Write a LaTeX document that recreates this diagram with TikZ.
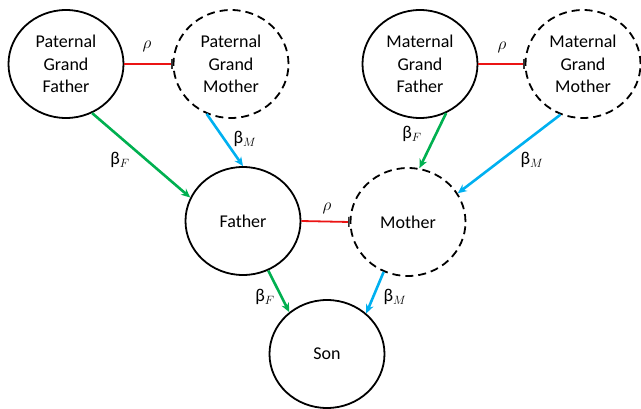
\documentclass[tikz,border=0pt]{standalone}
\usepackage{fontspec}
\setmainfont{Carlito}
\usetikzlibrary{arrows.meta,shapes.geometric}
\definecolor{cgreen}{RGB}{0,176,80}
\definecolor{cblue}{RGB}{0,176,240}
\definecolor{cred}{RGB}{235,20,20}
\begin{document}
\begin{tikzpicture}[x=1pt,y=-1pt,
  person/.style={ellipse,draw=black,line width=1.8pt,minimum width=115pt,minimum height=108pt,inner sep=0pt,align=center,font=\fontsize{18}{22.5}\selectfont},
  latent/.style={person,dash pattern=on 8pt off 5pt},
  fedge/.style={draw=cgreen,line width=2.6pt,-{Stealth[length=9pt,width=8pt]}},
  medge/.style={draw=cblue,line width=2.6pt,-{Stealth[length=9pt,width=8pt]}},
  redge/.style={draw=cred,line width=1.8pt,-{Bar[width=10pt,line width=1.5pt,color=black!80]}},
  lbl/.style={font=\fontsize{18}{22}\selectfont,inner sep=0pt}]
\useasboundingbox (0,0) rectangle (641,408);
\node[person] (pgf) at (66,64) {Paternal\\Grand\\Father};
\node[latent] (pgm) at (231,64) {Paternal\\Grand\\Mother};
\node[person] (mgf) at (420,64) {Maternal\\Grand\\Father};
\node[latent] (mgm) at (583,64) {Maternal\\Grand\\Mother};
\node[person] (fa) at (243,221) {Father};
\node[latent] (mo) at (408,222) {Mother};
\node[person] (son) at (327,354) {Son};
\draw[redge] (pgf.east) -- (pgm.west);
\draw[redge] (mgf.east) -- (mgm.west);
\draw[redge] (fa.east) -- (mo.west);
\draw[fedge] (pgf.-62) -- (fa.156);
\draw[medge] (pgm.-116) -- (fa.90);
\draw[fedge] (mgf.-62) -- (mo.78);
\draw[medge] (mgm.-114) -- (mo.30);
\draw[fedge] (fa.-63) -- (son.132);
\draw[medge] (mo.-116) -- (son.46);
\node[lbl] (r1) at (147,46) {$\rho$};
\node[lbl] (r2) at (502,47) {$\rho$};
\node[lbl] (r3) at (327,208) {$\rho$};
\node[lbl] (b1) at (120,160) {β$_F$};
\node[lbl] (b2) at (245,139) {β$_M$};
\node[lbl] (b3) at (412,134) {β$_F$};
\node[lbl] (b4) at (532,160) {β$_M$};
\node[lbl] (b5) at (265,297) {β$_F$};
\node[lbl] (b6) at (395,297) {β$_M$};
\end{tikzpicture}
\end{document}
